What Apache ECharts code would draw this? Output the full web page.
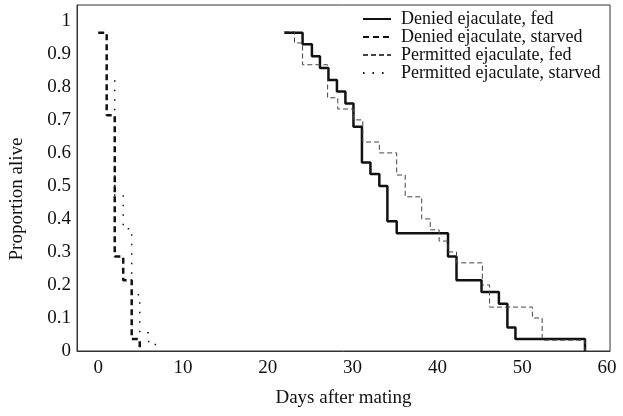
<!DOCTYPE html>
<html>
<head>
<meta charset="utf-8">
<script src="https://cdn.jsdelivr.net/npm/echarts@6/dist/echarts.min.js"></script>
<style>
  html, body { margin: 0; padding: 0; background: #fff; }
  #chart { width: 623px; height: 416px; }
</style>
</head>
<body>
<div id="chart"></div>
<script>
// survival steps: day of each step and proportion alive from that day on
var deniedFedDays = [21.95, 24.1, 25.2, 26.15, 27.15, 28.15, 29.15, 30.1, 31.1, 32.1, 33.15, 34.1, 35.2, 41.25, 42.25, 45.2, 47.25, 48.25, 49.2, 57.4];
var deniedFedAlive = [0.964, 0.929, 0.893, 0.857, 0.821, 0.786, 0.75, 0.679, 0.571, 0.536, 0.5, 0.393, 0.357, 0.286, 0.214, 0.179, 0.143, 0.071, 0.036, 0];

var deniedStarvedDays = [0, 1, 1.95, 2.95, 3.95, 4.9];
var deniedStarvedAlive = [0.964, 0.714, 0.286, 0.214, 0.036, 0];

var permittedFedDays = [21.95, 23.15, 24.1, 27.05, 28.25, 30.1, 31.2, 33.15, 35.2, 36.2, 38.15, 39.15, 40.2, 41.25, 42.25, 45.3, 46.15, 51.2, 52.35, 57.4];
var permittedFedAlive = [0.967, 0.933, 0.867, 0.767, 0.733, 0.7, 0.633, 0.6, 0.533, 0.467, 0.4, 0.367, 0.333, 0.3, 0.267, 0.2, 0.133, 0.1, 0.033, 0];

var permittedStarvedDays = [1.95, 1.95, 2.95, 3.95, 4.9, 5.95, 6.95];
var permittedStarvedAlive = [0.82, 0.47, 0.37, 0.17, 0.055, 0.02, 0];

var seriesNames = ['Denied ejaculate, fed', 'Denied ejaculate, starved', 'Permitted ejaculate, fed', 'Permitted ejaculate, starved'];
var xTicks = [0, 10, 20, 30, 40, 50, 60];
var yTicks = [0, 0.1, 0.2, 0.3, 0.4, 0.5, 0.6, 0.7, 0.8, 0.9, 1];

function pairs(days, alive) {
  return days.map(function (d, i) { return [d, alive[i]]; });
}

var font = '"Liberation Serif", "DejaVu Serif", serif';
var chart = echarts.init(document.getElementById('chart'), null, { renderer: 'canvas' });

function stepSeries(name, data, lineStyle) {
  return {
    name: name,
    type: 'line',
    step: 'end',
    data: data,
    showSymbol: false,
    symbol: 'none',
    lineStyle: lineStyle,
    itemStyle: { color: lineStyle.color },
    emphasis: { disabled: true }
  };
}

chart.setOption({
  animation: false,
  grid: { left: 76, right: 13, top: 5, bottom: 65, show: true, borderColor: '#333', borderWidth: 1 },
  legend: {
    orient: 'vertical',
    left: 362,
    top: 10,
    padding: 0,
    itemWidth: 28,
    itemHeight: 12,
    itemGap: 0,
    itemStyle: { opacity: 0 },
    textStyle: { fontFamily: font, fontSize: 18, lineHeight: 17, color: '#111', padding: [0, 0, 0, 5] },
    data: seriesNames
  },
  xAxis: {
    type: 'value',
    min: -2.5,
    max: 60.35,
    name: 'Days after mating',
    nameLocation: 'middle',
    nameGap: 38,
    nameTextStyle: { fontFamily: font, fontSize: 19, color: '#111' },
    axisLine: { show: true, onZero: false, lineStyle: { color: '#333', width: 1 } },
    axisTick: { show: false },
    splitLine: { show: false },
    axisLabel: { customValues: xTicks, fontFamily: font, fontSize: 19, color: '#111', margin: 8 }
  },
  yAxis: {
    type: 'value',
    min: 0,
    max: 1.048,
    name: 'Proportion alive',
    nameLocation: 'middle',
    nameGap: 50,
    nameTextStyle: { fontFamily: font, fontSize: 19, color: '#111', padding: [0, 42, 0, 0] },
    axisLine: { show: true, onZero: false, lineStyle: { color: '#333', width: 1 } },
    axisTick: { show: false },
    splitLine: { show: false },
    axisLabel: { customValues: yTicks, fontFamily: font, fontSize: 19, color: '#111', margin: 6 }
  },
  series: [
    stepSeries(seriesNames[0], pairs(deniedFedDays, deniedFedAlive), { color: '#111', width: 2.5, type: 'solid' }),
    stepSeries(seriesNames[1], pairs(deniedStarvedDays, deniedStarvedAlive), { color: '#111', width: 2.5, type: [6, 4] }),
    stepSeries(seriesNames[2], pairs(permittedFedDays, permittedFedAlive), { color: '#444', width: 1, type: [5, 3] }),
    stepSeries(seriesNames[3], pairs(permittedStarvedDays, permittedStarvedAlive), { color: '#111', width: 1.5, type: [1.5, 8] })
  ]
});
</script>
</body>
</html>
